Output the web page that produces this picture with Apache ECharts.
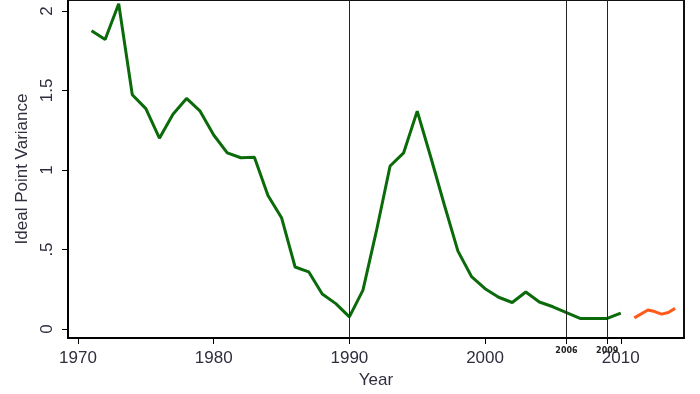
<!DOCTYPE html>
<html>
<head>
<meta charset="utf-8">
<script src="https://cdn.jsdelivr.net/npm/echarts@6/dist/echarts.min.js"></script>
<style>
  html, body { margin: 0; padding: 0; background: #fff; }
  #chart { width: 700px; height: 394px; }
</style>
</head>
<body>
<div id="chart"></div>
<script>
// ideal point variance by year
const years = [1971, 1972, 1973, 1974, 1975, 1976, 1977, 1978, 1979, 1980,
  1981, 1982, 1983, 1984, 1985, 1986, 1987, 1988, 1989, 1990,
  1991, 1992, 1993, 1994, 1995, 1996, 1997, 1998, 1999, 2000,
  2001, 2002, 2003, 2004, 2005, 2006, 2007, 2008, 2009, 2010];
const variance = [1.875, 1.82, 2.045, 1.473, 1.386, 1.2, 1.35, 1.45, 1.37, 1.22,
  1.108, 1.077, 1.08, 0.84, 0.7, 0.39, 0.36, 0.22, 0.16, 0.077,
  0.245, 0.62, 1.025, 1.108, 1.37, 1.08, 0.78, 0.49, 0.33, 0.254,
  0.2, 0.167, 0.233, 0.17, 0.14, 0.104, 0.067, 0.067, 0.067, 0.1];

const lateYears = [2011, 2012, 2012.5, 2013, 2013.5, 2014];
const lateVariance = [0.07, 0.12, 0.11, 0.094, 0.104, 0.13];

const xTicks = [1970, 1980, 1990, 2000, 2010];
const yTicks = [0, 0.5, 1, 1.5, 2];
const yTickLabels = ['0', '.5', '1', '1.5', '2'];
const breakYears = [1990, 2006, 2009];
const breakLabels = ['', '2006', '2009'];

const textColor = '#2e2e3e';
const font = 'Liberation Sans';

const chart = echarts.init(document.getElementById('chart'));
chart.setOption({
  animation: false,
  grid: {
    left: 68, right: 16, top: -2, bottom: 56,
    show: true, borderColor: '#111', borderWidth: 2, backgroundColor: '#fff'
  },
  xAxis: {
    type: 'value',
    min: 1969.263,
    max: 2014.66,
    name: 'Year',
    nameLocation: 'middle',
    nameGap: 28,
    nameTextStyle: { color: textColor, fontSize: 17, fontFamily: font },
    splitLine: { show: false },
    axisLine: { show: true, onZero: false, lineStyle: { color: '#000', width: 2 } },
    axisTick: {
      show: true, length: 6, lineStyle: { color: '#000', width: 1 },
      customValues: xTicks.concat([2006, 2009])
    },
    axisLabel: {
      customValues: xTicks,
      margin: 12,
      color: textColor, fontSize: 17, fontFamily: font,
      formatter: v => String(v)
    }
  },
  yAxis: {
    type: 'value',
    min: -0.05625,
    max: 2.06875,
    name: 'Ideal Point Variance',
    nameLocation: 'middle',
    nameGap: 27,
    nameTextStyle: { color: textColor, fontSize: 17, fontFamily: font },
    splitLine: { show: false },
    axisLine: { show: true, onZero: false, lineStyle: { color: '#000', width: 2 } },
    axisTick: {
      show: true, length: 6, lineStyle: { color: '#000', width: 1 },
      customValues: yTicks
    },
    axisLabel: {
      customValues: yTicks,
      rotate: 90,
      margin: 12,
      color: textColor, fontSize: 17, fontFamily: font,
      formatter: v => yTickLabels[yTicks.indexOf(v)]
    }
  },
  series: [
    {
      type: 'line',
      data: years.map((y, i) => [y, variance[i]]),
      symbol: 'none',
      lineStyle: { color: '#0b6b0b', width: 3 },
      markLine: {
        silent: true,
        symbol: 'none',
        lineStyle: { color: '#222', width: 1, type: 'solid' },
        label: {
          position: 'start',
          distance: 9,
          color: '#222',
          fontSize: 8,
          fontWeight: 'bold',
          fontFamily: 'DejaVu Sans',
          formatter: p => breakLabels[breakYears.indexOf(p.value)]
        },
        data: breakYears.map(y => ({ xAxis: y }))
      }
    },
    {
      type: 'line',
      data: lateYears.map((y, i) => [y, lateVariance[i]]),
      symbol: 'none',
      lineStyle: { color: '#ff5a1a', width: 3 }
    }
  ]
});
</script>
</body>
</html>
